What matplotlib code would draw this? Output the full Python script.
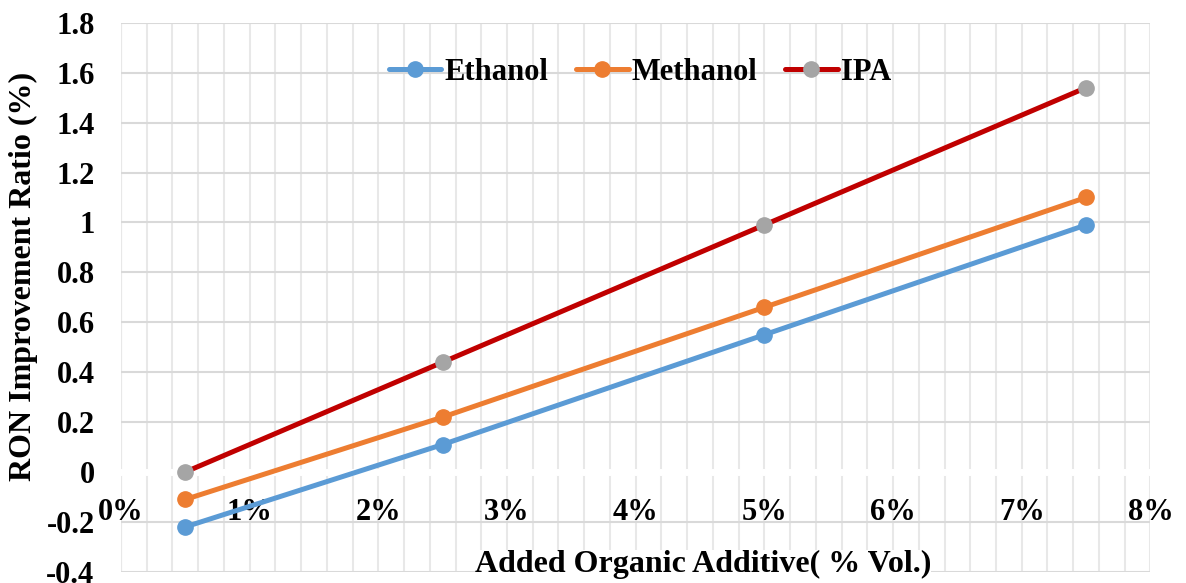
import matplotlib
matplotlib.use("Agg")
import matplotlib.pyplot as plt
from matplotlib.ticker import FixedLocator, MultipleLocator

plt.rcParams['font.family'] = ['Liberation Serif', 'DejaVu Serif']
plt.rcParams['font.weight'] = 'bold'

# ---- data ----
additive = [0.005, 0.025, 0.05, 0.075]
ethanol = [-0.22, 0.11, 0.55, 0.99]
methanol = [-0.11, 0.22, 0.66, 1.10]
ipa = [0.00, 0.44, 0.99, 1.54]
series_names = ["Ethanol", "Methanol", "IPA"]
x_ticks = [0.0, 0.01, 0.02, 0.03, 0.04, 0.05, 0.06, 0.07, 0.08]
x_labels = ["0%", "1%", "2%", "3%", "4%", "5%", "6%", "7%", "8%"]
y_ticks = [-0.4, -0.2, 0.0, 0.2, 0.4, 0.6, 0.8, 1.0, 1.2, 1.4, 1.6, 1.8]
y_labels = ["-0.4", "-0.2", "0", "0.2", "0.4", "0.6", "0.8", "1", "1.2", "1.4", "1.6", "1.8"]
x_title = "Added Organic Additive( % Vol.)"
y_title = "RON Improvement Ratio (%)"

fig = plt.figure(figsize=(11.86, 5.83), dpi=100)
ax = fig.add_axes([0.102, 0.0192, 0.868, 0.9417])

ax.set_xlim(0, 0.08)
ax.set_ylim(-0.4, 1.8)

# gridlines
ax.xaxis.set_major_locator(FixedLocator(x_ticks))
ax.xaxis.set_minor_locator(MultipleLocator(0.002))
ax.yaxis.set_major_locator(FixedLocator(y_ticks))
ax.grid(which='major', axis='y', color='#D9D9D9', lw=1.5, zorder=0)
ax.grid(which='both', axis='x', color='#E8E8E8', lw=1.5, zorder=0)
ax.set_axisbelow(True)
for s in ax.spines.values():
    s.set_visible(False)
ax.axvline(0, color='#D9D9D9', lw=1.5, zorder=0.5)

# white horizontal axis band at 0
ax.axhline(0, color='white', lw=5, zorder=1)

ax.set_xticklabels(x_labels)
ax.set_yticklabels(y_labels)
ax.tick_params(axis='both', which='both', length=0)
ax.tick_params(axis='y', labelsize=22, pad=19)
ax.tick_params(axis='x', labelsize=22)
for lbl in ax.get_xticklabels():
    lbl.set_fontweight('bold')
for lbl in ax.get_yticklabels():
    lbl.set_fontweight('bold')
ax.xaxis.set_ticks_position('bottom')
ax.spines['bottom'].set_position(('data', 0))
ax.tick_params(axis='x', pad=19)

line_kw = dict(lw=3.6, marker='o', markersize=11, zorder=3, solid_capstyle='round')
ax.plot(additive, ethanol, color='#5B9BD5', markerfacecolor='#5B9BD5', markeredgecolor='#5B9BD5', label=series_names[0], **line_kw)
ax.plot(additive, methanol, color='#ED7D31', markerfacecolor='#ED7D31', markeredgecolor='#ED7D31', label=series_names[1], **line_kw)
ax.plot(additive, ipa, color='#C00000', markerfacecolor='#A5A5A5', markeredgecolor='#A5A5A5', label=series_names[2], **line_kw)

leg = ax.legend(loc='center', bbox_to_anchor=(0.504, 0.91), ncol=3, frameon=False,
                prop={'family': 'Liberation Serif', 'weight': 'bold', 'size': 22},
                handlelength=1.73, handletextpad=0.1, columnspacing=0.9, borderaxespad=0)

fig.text(0.0194, 0.525, y_title, rotation=90, ha='center', va='center',
         fontsize=23, fontweight='bold')
fig.text(0.593, 0.031, x_title, ha='center', va='center', fontsize=23, fontweight='bold',
         bbox=dict(facecolor='white', edgecolor='none', pad=0))

fig.savefig("out.png", dpi=100)
